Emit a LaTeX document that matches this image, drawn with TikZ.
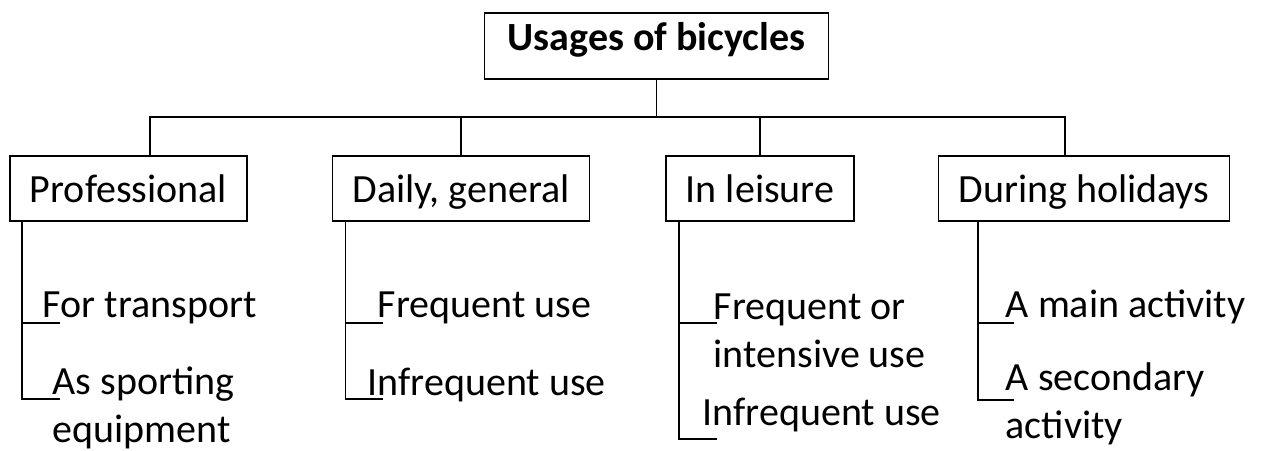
\documentclass[tikz,border=0pt]{standalone}
\usepackage{fontspec}
\setmainfont{Carlito}
\usetikzlibrary{calc}

\begin{document}
\begin{tikzpicture}[x=0.5pt, y=-0.5pt, line width=0.8pt,
  block/.style={draw, minimum height=32.5pt, inner xsep=10pt, text height=17.5pt, text depth=4pt, font=\fontsize{20}{24}\selectfont},
  leaf/.style={anchor=base west, inner sep=0pt, align=left, font=\fontsize{20}{24}\selectfont}]

  \useasboundingbox (0,0) rectangle (1263,450);

  % Top
  \node[block, font=\fontsize{20}{24}\selectfont\bfseries, minimum height=33pt, inner xsep=11.5pt, text height=12pt, text depth=8pt] (U) at (656.5,46) {Usages of bicycles};

  % Second row
  \node[block] (P) at (128.5,188.5) {Professional};
  \node[block] (D) at (461,188.5) {Daily, general};
  \node[block] (L) at (760,188.5) {In leisure};
  \node[block] (H) at (1084,188.5) {During holidays};

  % Tree lines
  \coordinate (bar) at (656.5,117);
  \draw (U.south) -- (bar);
  \draw ([xshift=10.75pt]P.north) |- (bar) -| ([xshift=-9.5pt]H.north);
  \draw (D.north) -- (D.north |- bar);
  \draw (L.north) -- (L.north |- bar);

  % Leaves (base = last line)
  \node[leaf] (P1) at (42,317) {For transport};
  \node[leaf] (P2) at (52,442) {As sporting\\equipment};
  \node[leaf] (D1) at (377,317) {Frequent use};
  \node[leaf] (D2) at (367,395) {Infrequent use};
  \node[leaf] (L1) at (713,367) {Frequent or\\intensive use};
  \node[leaf] (L2) at (702,425) {Infrequent use};
  \node[leaf] (H1) at (1005,317) {A main activity};
  \node[leaf] (H2) at (1005,438) {A secondary\\activity};

  % Leaf ends
  \coordinate (p1) at (60,323);
  \coordinate (p2) at (60,399);
  \coordinate (d1) at (383,323);
  \coordinate (d2) at (383,399);
  \coordinate (l1) at (717,323);
  \coordinate (l2) at (717,439);
  \coordinate (h1) at (1014,323);
  \coordinate (h2) at (1014,400);

  % Trunks
  \coordinate (PT) at ([xshift=6.5pt]P.south west);
  \coordinate (DT) at ([xshift=7pt]D.south west);
  \coordinate (LT) at ([xshift=7pt]L.south west);
  \coordinate (HT) at ([xshift=20pt]H.south west);

  \draw (PT) |- (p2);
  \draw (PT |- p1) -- (p1);
  \draw (DT) |- (d2);
  \draw (DT |- d1) -- (d1);
  \draw (LT) |- (l2);
  \draw (LT |- l1) -- (l1);
  \draw (HT) |- (h2);
  \draw (HT |- h1) -- (h1);

\end{tikzpicture}
\end{document}
